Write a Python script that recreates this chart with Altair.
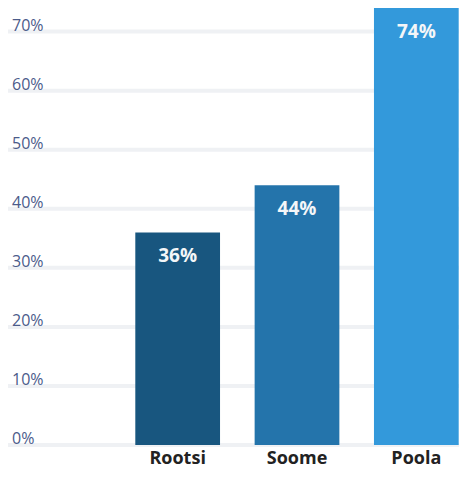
import altair as alt
import pandas as pd

countries = ["Rootsi", "Soome", "Poola"]
values = [36, 44, 74]
value_labels = ["36%", "44%", "74%"]
colors = ["#18567f", "#2474ab", "#3399db"]

ticks = [0, 10, 20, 30, 40, 50, 60, 70]
tick_labels = ["0%", "10%", "20%", "30%", "40%", "50%", "60%", "70%"]

bars_df = pd.DataFrame({"country": countries, "value": values, "label": value_labels})
ticks_df = pd.DataFrame({"tick": ticks, "label": tick_labels})

W, H = 451, 437
FONT = "Open Sans"

yscale = alt.Scale(domain=[0, 74], nice=False, zero=True)
xscale = alt.Scale(domain=countries, range=[110, 468], paddingInner=0.29, paddingOuter=0.145)

grid = alt.Chart(ticks_df).mark_rule(color="#eff1f4", strokeWidth=4).encode(
    y=alt.Y("tick:Q", scale=yscale, axis=None),
    x=alt.value(0),
    x2=alt.value(W),
)

ylabels = alt.Chart(ticks_df).mark_text(
    align="left", baseline="alphabetic", font=FONT, fontSize=16, color="#4b5b8a", dy=-1
).encode(
    y=alt.Y("tick:Q", scale=yscale, axis=None),
    x=alt.value(4),
    text="label:N",
)

bars = alt.Chart(bars_df).mark_bar().encode(
    x=alt.X("country:N", scale=xscale, sort=countries,
            axis=alt.Axis(title=None, domain=False, ticks=False, labelAngle=0,
                          labelFont=FONT, labelFontSize=18, labelFontWeight="bold",
                          labelColor="#222222", labelPadding=4)),
    y=alt.Y("value:Q", scale=yscale, axis=None),
    color=alt.Color("country:N", scale=alt.Scale(domain=countries, range=colors), legend=None),
)

text = alt.Chart(bars_df).mark_text(
    font=FONT, fontSize=19, fontWeight="bold", color="#f4f6f8", baseline="middle", dy=24
).encode(
    x=alt.X("country:N", scale=xscale, sort=countries),
    y=alt.Y("value:Q", scale=yscale, axis=None),
    text="label:N",
)

chart = alt.layer(grid, ylabels, bars, text).properties(
    width=W, height=H,
    autosize=alt.AutoSizeParams(type="none"),
    padding={"left": 0, "top": 0, "right": 0, "bottom": 26},
).configure_view(stroke=None)

chart.save("out.html", embed_options={"renderer": "svg", "actions": False})
